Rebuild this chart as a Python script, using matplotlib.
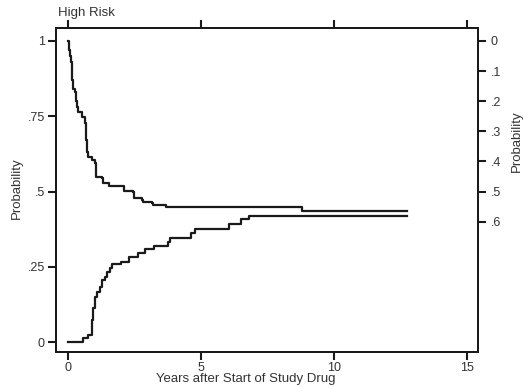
import numpy as np
import matplotlib
matplotlib.use('Agg')
import matplotlib.pyplot as plt

# Step curves (time in years, probability after step)
surv_t = [0.0, 0.04, 0.08, 0.11, 0.14, 0.17, 0.19, 0.26, 0.30, 0.33, 0.39,
          0.52, 0.64, 0.66, 0.68, 0.70, 0.72, 0.75, 0.90, 1.02, 1.04, 1.05,
          1.28, 1.32, 1.56, 2.09, 2.44, 2.50, 2.78, 2.82, 3.16, 3.20, 3.70,
          8.78, 12.74]
surv_p = [1.0, 0.97, 0.95, 0.93, 0.90, 0.87, 0.84, 0.83, 0.80, 0.78, 0.765,
          0.748, 0.728, 0.70, 0.67, 0.645, 0.63, 0.615, 0.605, 0.595, 0.57,
          0.548, 0.545, 0.528, 0.518, 0.502, 0.497, 0.478, 0.472, 0.465,
          0.462, 0.455, 0.449, 0.435, 0.435]

inc_t = [0.0, 0.58, 0.76, 0.89, 0.91, 0.93, 0.95, 1.02, 1.08, 1.20, 1.27,
         1.39, 1.45, 1.58, 1.67, 1.99, 2.29, 2.64, 2.89, 3.23, 3.76, 3.83,
         4.62, 4.77, 6.05, 6.50, 6.82, 12.74]
inc_p = [0.0, 0.013, 0.023, 0.034, 0.073, 0.095, 0.113, 0.150, 0.167,
         0.184, 0.206, 0.217, 0.234, 0.246, 0.258, 0.267, 0.283, 0.295,
         0.308, 0.319, 0.333, 0.344, 0.361, 0.374, 0.392, 0.408, 0.417,
         0.417]

left_ticks = [0, 0.25, 0.5, 0.75, 1]
left_labels = ['0', '.25', '.5', '.75', '1']
right_ticks = [0, 0.1, 0.2, 0.3, 0.4, 0.5, 0.6]
right_labels = ['0', '.1', '.2', '.3', '.4', '.5', '.6']
x_ticks = [0, 5, 10, 15]

plt.rcParams['font.family'] = ['Liberation Sans', 'DejaVu Sans']
txt_col = '#333333'
line_col = '#1a1a1a'

fig = plt.figure(figsize=(5.24, 3.87), dpi=100)
ax = fig.add_axes([56 / 524, 35 / 387, 422 / 524, 324 / 387])

ax.plot(surv_t, surv_p, drawstyle='steps-post', color=line_col, lw=1.6)
ax.plot(inc_t, inc_p, drawstyle='steps-post', color=line_col, lw=1.6)

ax.set_xlim(-0.45, 15.41)
ax.set_ylim(-0.033, 1.043)

for s in ax.spines.values():
    s.set_linewidth(1.4)
    s.set_color('#1a1a1a')

ax.set_yticks(left_ticks)
ax.set_yticklabels(left_labels)
ax.set_xticks(x_ticks)
ax.tick_params(axis='both', direction='out', length=6, width=1.5,
               labelsize=9, labelcolor=txt_col, pad=2, color='#1a1a1a')
ax.tick_params(axis='x', top=True, labeltop=False, pad=1)

ax2 = ax.twinx()
ax2.set_ylim(1.033, -0.043)
ax2.set_yticks(right_ticks)
ax2.set_yticklabels(right_labels)
ax2.tick_params(axis='y', direction='out', length=6, width=1.5,
                labelsize=9, labelcolor=txt_col, pad=3, color='#1a1a1a')
for s in ax2.spines.values():
    s.set_linewidth(1.4)
    s.set_color('#1a1a1a')

fig.text(58 / 524, 1 - 13 / 387, 'High Risk', fontsize=9.5, color=txt_col,
         ha='left', va='center')
fig.text(17 / 524, 1 - 188 / 387, 'Probability', fontsize=9.5, color=txt_col,
         rotation=90, ha='center', va='center')
fig.text(517 / 524, 1 - 141 / 387, 'Probability', fontsize=9.5, color=txt_col,
         rotation=90, ha='center', va='center')
fig.text(246 / 524, 1 - 379 / 387, 'Years after Start of Study Drug',
         fontsize=9.5, color=txt_col, ha='center', va='center')

fig.savefig('out.png', dpi=100)
